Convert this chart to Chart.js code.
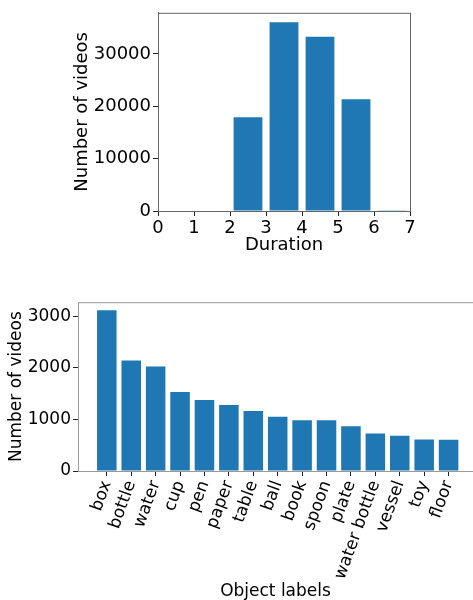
<!DOCTYPE html>
<html>
<head>
<meta charset="utf-8">
<script src="https://cdn.jsdelivr.net/npm/chart.js@4"></script>
<style>
  body { margin: 0; width: 473px; height: 600px; overflow: hidden; background: #fff; position: relative; }
  #durationBox { position: absolute; left: 0; top: 0; width: 473px; height: 256px; }
  #labelsBox { position: absolute; left: 0; top: 290px; width: 473px; height: 312px; }
</style>
</head>
<body>
<div id="durationBox"><canvas id="durationChart"></canvas></div>
<div id="labelsBox"><canvas id="labelsChart"></canvas></div>
<script>
// histogram of video durations (bin centres)
const durationBins = [2.5, 3.5, 4.5, 5.5, 6.5];
const durationCounts = [17900, 36050, 33280, 21340, 150];
const durationTicks = [0, 1, 2, 3, 4, 5, 6, 7];
const durationYTicks = [0, 10000, 20000, 30000];

// most frequent object labels
const objectLabels = ['box', 'bottle', 'water', 'cup', 'pen', 'paper', 'table', 'ball',
    'book', 'spoon', 'plate', 'water bottle', 'vessel', 'toy', 'floor'];
const objectCounts = [3117, 2143, 2026, 1532, 1377, 1279, 1162, 1052, 987, 985, 870, 727, 682, 610, 608];
const objectYTicks = [0, 1000, 2000, 3000];

const barColor = '#1f77b4';
Chart.defaults.font.family = '"DejaVu Sans", sans-serif';
Chart.defaults.color = '#000';

// draw the top/right spines too, like matplotlib
const frame = {
    id: 'frame',
    afterDraw(chart, args, opts) {
        const { ctx, chartArea: a } = chart;
        ctx.save();
        ctx.strokeStyle = opts.color;
        ctx.lineWidth = 1;
        ctx.strokeRect(a.left + 0.5, a.top + 0.5, a.right - a.left, a.bottom - a.top);
        ctx.restore();
    }
};

function axisBase(spine, size) {
    return {
        grid: { drawOnChartArea: false, drawTicks: true, tickLength: 5, color: '#222', offset: false },
        border: { color: spine },
        ticks: { color: '#000', padding: 2, font: { size: size }, callback: v => String(v) },
        title: { display: true, color: '#000', font: { size: size }, padding: { top: 0, bottom: 0 } }
    };
}

const dx = axisBase('#666', 18);
const dy = axisBase('#666', 18);
new Chart(document.getElementById('durationChart'), {
    type: 'bar',
    data: {
        datasets: [{
            data: durationBins.map((b, i) => ({ x: b, y: durationCounts[i] })),
            backgroundColor: barColor,
            barPercentage: 0.8,
            categoryPercentage: 1
        }]
    },
    options: {
        responsive: true,
        maintainAspectRatio: false,
        animation: false,
        layout: { padding: { left: 72, top: 10, right: 63, bottom: 0 } },
        plugins: { legend: { display: false }, tooltip: { enabled: false }, frame: { color: '#666' } },
        scales: {
            x: {
                ...dx, type: 'linear', min: 0, max: 7, offset: false,
                afterBuildTicks: s => { s.ticks = durationTicks.map(v => ({ value: v })); },
                title: { ...dx.title, text: 'Duration' },
                afterFit: s => { s.height = 45; }
            },
            y: {
                ...dy, min: 0, max: 37850,
                afterBuildTicks: s => { s.ticks = durationYTicks.map(v => ({ value: v })); },
                title: { ...dy.title, text: 'Number of videos' },
                afterFit: s => { s.width = 86; }
            }
        }
    },
    plugins: [frame]
});

const lx = axisBase('#999', 17);
const ly = axisBase('#999', 17);
new Chart(document.getElementById('labelsChart'), {
    type: 'bar',
    data: {
        datasets: [{
            data: objectCounts.map((c, i) => ({ x: i, y: c })),
            backgroundColor: barColor,
            barPercentage: 0.8,
            categoryPercentage: 1
        }]
    },
    options: {
        responsive: true,
        maintainAspectRatio: false,
        animation: false,
        layout: { padding: { left: 6, top: 12, right: 0, bottom: 0 } },
        plugins: { legend: { display: false }, tooltip: { enabled: false }, frame: { color: '#999' } },
        scales: {
            x: {
                ...lx, type: 'linear', min: -1.18, max: 15.0, offset: false,
                afterBuildTicks: s => { s.ticks = objectLabels.map((_, i) => ({ value: i })); },
                ticks: { ...lx.ticks, autoSkip: false, minRotation: 70, maxRotation: 70,
                    callback: v => objectLabels[v] },
                title: { ...lx.title, text: 'Object labels' },
                afterFit: s => { s.height = 131; }
            },
            y: {
                ...ly, min: 0, max: 3275,
                afterBuildTicks: s => { s.ticks = objectYTicks.map(v => ({ value: v })); },
                title: { ...ly.title, text: 'Number of videos' },
                afterFit: s => { s.width = 72; }
            }
        }
    },
    plugins: [frame]
});
</script>
</body>
</html>
